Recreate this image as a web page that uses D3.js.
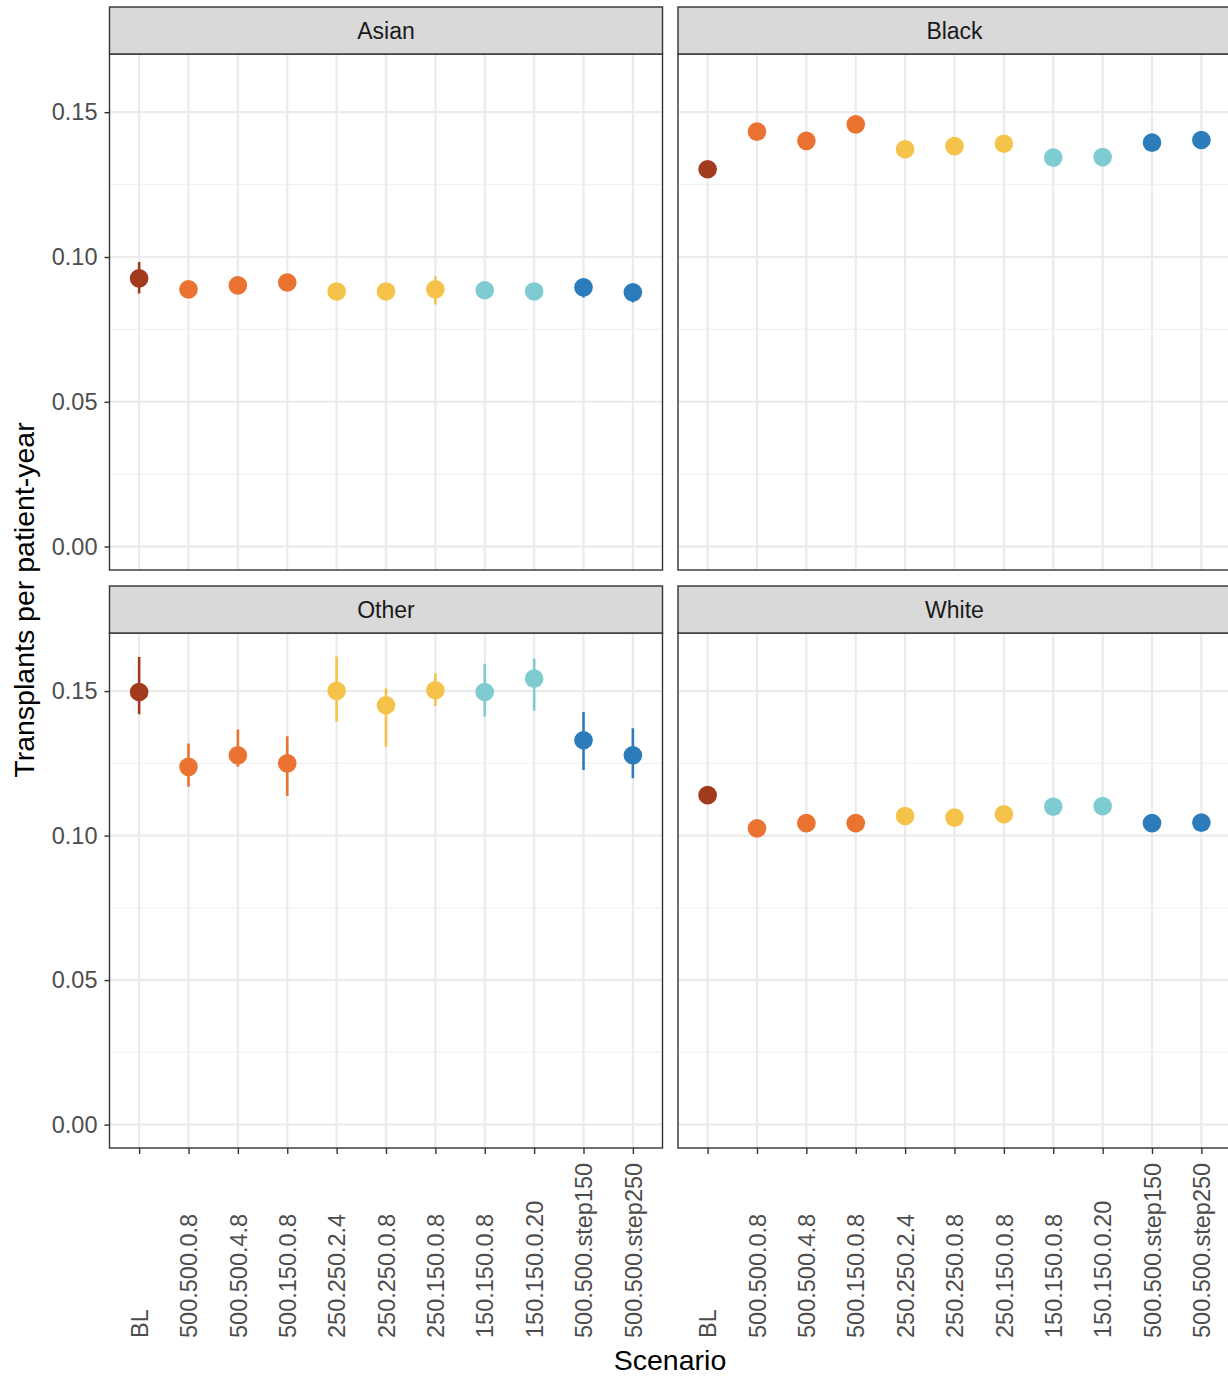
<!DOCTYPE html>
<html><head><meta charset="utf-8">
<script src="https://cdn.jsdelivr.net/npm/d3@7"></script>
<style>body{margin:0;background:#fff}svg{display:block}text{font-family:"Liberation Sans",Arial,sans-serif}</style>
</head><body>
<svg id="c" width="1228" height="1377"></svg>
<script>
const scenarios = ["BL","500.500.0.8","500.500.4.8","500.150.0.8","250.250.2.4","250.250.0.8","250.150.0.8","150.150.0.8","150.150.0.20","500.500.step150","500.500.step250"];
const scenarioColors = ["#A23A1D","#EA7331","#EA7331","#EA7331","#F6C34A","#F6C34A","#F6C34A","#7ECCD1","#7ECCD1","#2C7BBA","#2C7BBA"];
const groups = ["Asian","Black","Other","White"];
const yTicks = [0.00,0.05,0.10,0.15];

const asianMean  = [0.0926,0.0888,0.0902,0.0912,0.0881,0.0881,0.0888,0.0885,0.0881,0.0895,0.0878];
const asianLow   = [0.0874,0.0880,0.0895,0.0904,0.0874,0.0875,0.0836,0.0878,0.0874,0.0860,0.0843];
const asianHigh  = [0.0983,0.0896,0.0909,0.0920,0.0888,0.0887,0.0933,0.0892,0.0888,0.0905,0.0890];

const blackMean  = [0.1303,0.1433,0.1401,0.1458,0.1372,0.1383,0.1391,0.1343,0.1345,0.1395,0.1404];
const blackLow   = [0.1296,0.1427,0.1395,0.1452,0.1366,0.1377,0.1385,0.1337,0.1339,0.1389,0.1398];
const blackHigh  = [0.1310,0.1439,0.1407,0.1464,0.1378,0.1389,0.1397,0.1349,0.1351,0.1401,0.1410];

const otherMean  = [0.1497,0.1238,0.1278,0.1250,0.1501,0.1451,0.1503,0.1497,0.1543,0.1330,0.1278];
const otherLow   = [0.1420,0.1169,0.1238,0.1137,0.1394,0.1307,0.1448,0.1411,0.1432,0.1227,0.1198];
const otherHigh  = [0.1618,0.1319,0.1367,0.1344,0.1620,0.1509,0.1561,0.1595,0.1613,0.1428,0.1371];

const whiteMean  = [0.1140,0.1025,0.1043,0.1043,0.1068,0.1062,0.1074,0.1100,0.1102,0.1043,0.1045];
const whiteLow   = [0.1135,0.1020,0.1038,0.1038,0.1063,0.1057,0.1069,0.1095,0.1097,0.1038,0.1040];
const whiteHigh  = [0.1145,0.1030,0.1048,0.1048,0.1073,0.1067,0.1079,0.1105,0.1107,0.1048,0.1050];

const seriesMean = [asianMean, blackMean, otherMean, whiteMean];
const seriesLow  = [asianLow, blackLow, otherLow, whiteLow];
const seriesHigh = [asianHigh, blackHigh, otherHigh, whiteHigh];

const svg = d3.select("#c");
const colX = [[109.5,662.5],[678,1231]];
const rowY = [[7,54,570],[586,633,1148]];

const allHigh = d3.max(seriesHigh.flat());
const yMin = 0, yMax = allHigh;
const pad = (yMax - yMin) * 0.05;
const color = d3.scaleOrdinal().domain(scenarios).range(scenarioColors);

groups.forEach((g, gi) => {
  const col = gi % 2, row = Math.floor(gi / 2);
  const [x0, x1] = colX[col];
  const [sTop, pTop, pBot] = rowY[row];
  const x = d3.scalePoint().domain(scenarios).range([x0, x1]).padding(0.6);
  const y = d3.scaleLinear().domain([yMin - pad, yMax + pad]).range([pBot, pTop]);
  const gp = svg.append("g");
  const clipId = "clip" + gi;
  gp.append("clipPath").attr("id", clipId).append("rect").attr("x", x0).attr("y", pTop).attr("width", x1 - x0).attr("height", pBot - pTop);
  const grid = gp.append("g").attr("clip-path", `url(#${clipId})`);
  const minor = [0.025, 0.075, 0.125];
  grid.selectAll(".mn").data(minor).join("line")
    .attr("x1", x0).attr("x2", x1).attr("y1", d => y(d)).attr("y2", d => y(d))
    .attr("stroke", "#f2f2f2").attr("stroke-width", 1.2);
  grid.selectAll(".mj").data(yTicks).join("line")
    .attr("x1", x0).attr("x2", x1).attr("y1", d => y(d)).attr("y2", d => y(d))
    .attr("stroke", "#ebebeb").attr("stroke-width", 2.2);
  grid.selectAll(".vx").data(scenarios).join("line")
    .attr("x1", d => x(d)).attr("x2", d => x(d)).attr("y1", pTop).attr("y2", pBot)
    .attr("stroke", "#ebebeb").attr("stroke-width", 2.2);

  const data = scenarios.map((s, i) => ({s, m: seriesMean[gi][i], lo: seriesLow[gi][i], hi: seriesHigh[gi][i]}));
  grid.selectAll(".eb").data(data).join("line")
    .attr("x1", d => x(d.s)).attr("x2", d => x(d.s))
    .attr("y1", d => y(d.lo)).attr("y2", d => y(d.hi))
    .attr("stroke", d => color(d.s)).attr("stroke-width", 2.6);
  grid.selectAll(".pt").data(data).join("circle")
    .attr("cx", d => x(d.s)).attr("cy", d => y(d.m)).attr("r", 9.3)
    .attr("fill", d => color(d.s));

  gp.append("rect").attr("x", x0).attr("y", pTop).attr("width", x1 - x0).attr("height", pBot - pTop)
    .attr("fill", "none").attr("stroke", "#333333").attr("stroke-width", 1.4);
  gp.append("rect").attr("x", x0).attr("y", sTop).attr("width", x1 - x0).attr("height", pTop - sTop)
    .attr("fill", "#d9d9d9").attr("stroke", "#333333").attr("stroke-width", 1.4);
  gp.append("text").attr("x", (x0 + x1) / 2).attr("y", (sTop + pTop) / 2).attr("dy", "0.36em")
    .attr("text-anchor", "middle").attr("font-size", 23).attr("fill", "#1a1a1a").text(g);

  if (col === 0) {
    const ax = gp.append("g").attr("transform", `translate(${x0},0)`)
      .call(d3.axisLeft(y).tickValues(yTicks).tickFormat(d3.format(".2f")).tickSize(5).tickPadding(7));
    ax.select(".domain").remove();
    ax.selectAll("line").attr("stroke", "#333333").attr("stroke-width", 1.4);
    ax.selectAll("text").attr("font-size", 23.5).attr("fill", "#4d4d4d").attr("font-family", "Liberation Sans, Arial, sans-serif");
  }
  if (row === 1) {
    const ax = gp.append("g").attr("transform", `translate(0,${pBot})`)
      .call(d3.axisBottom(x).tickSize(6).tickFormat(d => d));
    ax.select(".domain").remove();
    ax.selectAll("line").attr("stroke", "#333333").attr("stroke-width", 1.4);
    ax.selectAll("text")
      .attr("font-size", 23.5).attr("fill", "#4d4d4d").attr("font-family", "Liberation Sans, Arial, sans-serif")
      .attr("text-anchor", "start")
      .attr("x", 0).attr("y", 0).attr("dy", "0.35em")
      .attr("transform", `translate(0,${1338 - pBot}) rotate(-90)`);
  }
});

svg.append("text").attr("transform", "translate(34,600) rotate(-90)")
  .attr("text-anchor", "middle").attr("font-size", 28.5).attr("fill", "#000").text("Transplants per patient-year");
svg.append("text").attr("x", 670).attr("y", 1370)
  .attr("text-anchor", "middle").attr("font-size", 28.5).attr("fill", "#000").text("Scenario");
</script>
</body></html>
